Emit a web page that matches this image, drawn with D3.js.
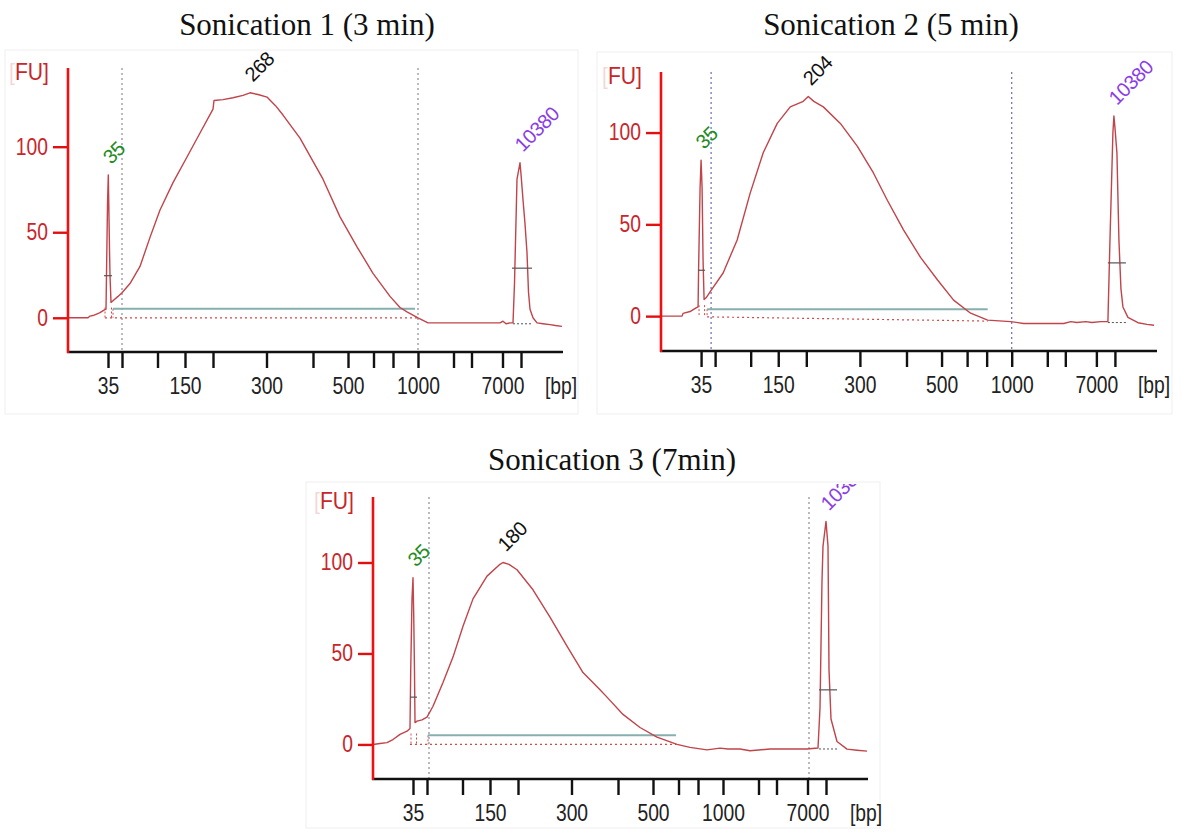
<!DOCTYPE html>
<html><head><meta charset="utf-8">
<script src="https://cdn.jsdelivr.net/npm/d3@7"></script>
<style>
body{margin:0;background:#fff;}
svg{display:block;}
</style></head><body>
<svg id="c" width="1182" height="838"></svg>
<script>
// ---------------- data ----------------
const titles = ["Sonication 1 (3 min)", "Sonication 2 (5 min)", "Sonication 3 (7min)"];
// ladder fragment sizes (bp) and their migration times (s, arbitrary units)
const ladderBp   = [35, 50, 100, 150, 200, 300, 400, 500, 600, 700, 1000, 2000, 3000, 7000, 10380];
const ladderTime = [28.0, 30.8, 37.9, 43.4, 49.0, 59.7, 69.0, 76.0, 81.1, 85.0, 90.0, 97.1, 100.7, 106.9, 110.6];
const labelledBp = [35, 150, 300, 500, 1000, 7000];
const yTickValues = [0, 50, 100];
const timeDomain = [20, 119];
const fuDomains = [[-20, 146], [-19, 133], [-19, 136]];

// electropherogram traces: [time, FU]
const trace1 = [
 [20,0],[24,0],[24.4,1],[25.2,1.5],[25.6,2],[26.4,3],[27.2,4.5],[27.6,5],
 [27.7,25],[27.9,66],[28.06,83.5],[28.16,66],[28.3,40],[28.4,25],[28.6,9],
 [29.0,10],[30.0,12.5],[30.8,14.6],[32.4,20],[34.4,30],[36.4,47],[38.4,63],[41.0,79],[43.8,94],[46.4,108],
 [49.0,122],[49.2,127],[51.0,127.5],[53.0,128.6],[55.0,130],[56.4,131.5],[58.0,130.5],[59.8,129],[61.5,124],
 [63.0,118.5],[66.4,105],[68.5,94],[71.0,81],[74.4,59],[77.8,41.5],[81.0,26],[84.4,12.5],[86.4,6],[87.8,3.5],
 [90.0,0],[91.0,-1.5],[92.0,-3],[100,-3],[104,-3],[106.4,-3],[107.0,-2],[107.6,-3.5],[108.4,-3],[109.0,-3],
 [109.3,20],[109.8,81],[110.4,90.6],[110.6,84],[111.0,69],[111.4,55],[111.8,38],[112.1,15],[112.4,5],
 [113.0,0],[113.8,-3],[115,-3.5],[116.4,-4],[117.5,-4.5],[118.8,-5]
];
const trace2 = [
 [20,0],[24.2,0],[24.4,1.5],[25.8,2.5],[27.0,4.5],[27.4,5],
 [27.5,25],[27.8,70],[28.0,85],[28.2,70],[28.4,30],[28.6,9],
 [29.0,10],[30.0,14],[32.4,23.5],[35.2,41.5],[37.8,67],[40.4,89],[43.2,105],[45.8,114],[48.4,117],[49.4,119.7],
 [50.5,117],[52.4,114],[55.8,105],[59.2,92.5],[62.4,78],[65.2,63],[68.4,47],[71.8,32],[75.2,19.7],[78.4,8.7],
 [81.8,1.6],[85.2,-2.2],[89.8,-3],[92.4,-4],[100.4,-4],[101.8,-3],[103,-3.5],[104.8,-3],[106,-3.5],[107.8,-3],[109.2,-3],
 [109.6,40],[110.2,100],[110.4,109],[110.6,103],[111.0,89],[111.4,41.5],[111.8,15],[112.2,5],[113.2,-0.7],
 [115.2,-3.6],[117,-4.5],[118.4,-5]
];
const trace3 = [
 [20,0],[21.4,0.5],[22.8,1],[24.0,2.7],[25.4,5.5],[26.8,7.3],[27.4,8.8],
 [27.54,40],[27.8,80],[28.0,91.6],[28.14,72],[28.3,40],[28.4,12],
 [28.8,12.8],[29.8,13.5],[30.8,15],[32.0,21],[34.0,34],[36.0,48],[38.0,65],[40.0,80],[42.8,92.5],[45.4,99],[46.0,100],
 [47.2,99],[48.8,96],[52.0,85],[55.4,70],[58.8,54],[62.0,39.5],[65.4,30],[66.8,26],[70.0,16.5],[73.4,9.3],[76.8,4],
 [80.8,0],[83.4,-1.6],[86.8,-3],[89.4,-2],[91,-2.5],[93.4,-2.5],[95.4,-3.5],[99.4,-2.5],[103.4,-2.5],[106.8,-2.5],[109.0,-2],
 [109.4,20],[109.8,90],[110.0,109],[110.6,122.6],[111.0,109],[111.2,41],[111.6,14],[112.8,1.6],[114.8,-2.6],
 [116.8,-3.2],[118.8,-3.7]
];

// called peaks: [time, FU, size label]  (lower marker, smear peak, upper marker)
const peaks1 = [[28.06, 83.5, "35"], [56.4, 131.5, "268"], [110.4, 90.6, "10380"]];
const peaks2 = [[28.0, 85, "35"], [49.4, 119.7, "204"], [110.4, 109, "10380"]];
const peaks3 = [[28.0, 91.6, "35"], [46.0, 100, "180"], [110.6, 122.6, "10380"]];

// half-height markers: [time start, time end, FU]
const halfHeight1 = [[27.2, 28.8, 24.6], [108.8, 112.8, 29]];
const halfHeight2 = [[27.4, 28.8, 25], [109.2, 112.8, 29]];
const halfHeight3 = [[27.4, 28.8, 26], [109.2, 112.8, 30]];

// smear region: [time start, time end, FU level]
const smear1 = [29.0, 89.4, 5.3];
const smear2 = [29.2, 85.2, 3.8];
const smear3 = [31.0, 80.6, 5];

// region baseline: [time start, FU start, time end, FU end]
const baseline1 = [27.4, 0, 90.0, 0];
const baseline2 = [29.2, -0.4, 85.2, -2.7];
const baseline3 = [27.4, 0, 80.6, 0];

// upper-marker peak baseline: [time start, time end, FU]
const markerBase1 = [109.0, 113.0, -3.5];
const markerBase2 = [109.2, 113.0, -3.5];
const markerBase3 = [109.2, 112.8, -2.5];

// region boundaries (vertical lines), time
const bounds1 = [30.8, 90.0];
const bounds2 = [30.0, 90.0];
const bounds3 = [31.2, 107.2];

// ---------------- layout & style ----------------
const layouts = [
  {left: 68,  top: 68,  width: 495, height: 284, titleX: 307, titleY: 35,  clipTop: 40,  box: [5, 50, 573, 364], boundColor: "#8c8c9c"},
  {left: 661, top: 72,  width: 496, height: 279, titleX: 891, titleY: 35,  clipTop: 40,  box: [597, 52, 575, 362], boundColor: "#6b6bb5"},
  {left: 373, top: 497, width: 495, height: 282, titleX: 612, titleY: 470, clipTop: 484, box: [306, 482, 574, 346], boundColor: "#8c8c9c"}
];
const traces = [trace1, trace2, trace3];
const peaks = [peaks1, peaks2, peaks3];
const halfHeights = [halfHeight1, halfHeight2, halfHeight3];
const smears = [smear1, smear2, smear3];
const baselines = [baseline1, baseline2, baseline3];
const markerBases = [markerBase1, markerBase2, markerBase3];
const bounds = [bounds1, bounds2, bounds3];
const peakColors = ["#228b22", "#111111", "#8a3ee6"];

const SANS = "'Liberation Sans', Arial, sans-serif";
const LABEL_SIZE = 23, LABEL_SX = 0.84;
const svg = d3.select("#c");

layouts.forEach((L, i) => {
  const g = svg.append("g");
  // faint frame of the screenshot
  g.append("rect").attr("x", L.box[0]).attr("y", L.box[1]).attr("width", L.box[2]).attr("height", L.box[3])
    .attr("fill", "none").attr("stroke", "#efefef").attr("stroke-width", 1);

  const x = d3.scaleLinear().domain(timeDomain).range([L.left, L.left + L.width]);
  const y = d3.scaleLinear().domain(fuDomains[i]).range([L.top + L.height, L.top]);

  // title
  svg.append("text").attr("x", L.titleX).attr("y", L.titleY).attr("text-anchor", "middle")
    .attr("font-family", "'Liberation Serif', 'Times New Roman', serif").attr("font-size", 31)
    .attr("fill", "#111").text(titles[i]);

  const clipId = "clip" + i;
  svg.append("clipPath").attr("id", clipId).append("rect")
    .attr("x", L.left - 70).attr("y", L.clipTop).attr("width", L.width + 80).attr("height", L.top + L.height - L.clipTop + 60);
  const pg = g.append("g").attr("clip-path", `url(#${clipId})`);

  // region boundary vertical dotted lines
  bounds[i].forEach(t => {
    pg.append("line").attr("x1", x(t)).attr("x2", x(t)).attr("y1", L.top).attr("y2", L.top + L.height)
      .attr("stroke", L.boundColor).attr("stroke-width", 1.2).attr("stroke-dasharray", "2,3");
  });

  // region baseline (red dotted)
  const b = baselines[i];
  pg.append("line").attr("x1", x(b[0])).attr("y1", y(b[1])).attr("x2", x(b[2])).attr("y2", y(b[3]))
    .attr("stroke", "#d04a4a").attr("stroke-width", 1.2).attr("stroke-dasharray", "2,3");
  // dotted drop at smear start
  const s = smears[i];
  pg.append("line").attr("x1", x(s[0])).attr("x2", x(s[0])).attr("y1", y(s[2])).attr("y2", y(0))
    .attr("stroke", "#d04a4a").attr("stroke-width", 1).attr("stroke-dasharray", "2,2");
  // dotted edges of lower marker
  const hL = halfHeights[i][0];
  [hL[0] + 0.2, hL[1] - 0.1].forEach(t => {
    pg.append("line").attr("x1", x(t)).attr("x2", x(t)).attr("y1", y(6)).attr("y2", y(0))
      .attr("stroke", "#d04a4a").attr("stroke-width", 1).attr("stroke-dasharray", "2,2");
  });
  // upper marker baseline
  const mb = markerBases[i];
  pg.append("line").attr("x1", x(mb[0])).attr("x2", x(mb[1])).attr("y1", y(mb[2])).attr("y2", y(mb[2]))
    .attr("stroke", "#555").attr("stroke-width", 1).attr("stroke-dasharray", "2,2");

  // smear region line (teal)
  pg.append("line").attr("x1", x(s[0])).attr("x2", x(s[1])).attr("y1", y(s[2])).attr("y2", y(s[2]))
    .attr("stroke", "#86afae").attr("stroke-width", 2);

  // trace
  const line = d3.line().x(d => x(d[0])).y(d => y(d[1]));
  pg.append("path").datum(traces[i]).attr("d", line).attr("fill", "none")
    .attr("stroke", "#c0444a").attr("stroke-width", 1.4).attr("stroke-linejoin", "round");

  // half-height markers
  halfHeights[i].forEach(h => {
    pg.append("line").attr("x1", x(h[0])).attr("x2", x(h[1])).attr("y1", y(h[2])).attr("y2", y(h[2]))
      .attr("stroke", "#555").attr("stroke-width", 1.2);
  });

  // peak labels
  peaks[i].forEach((p, k) => {
    const px = x(p[0]) + 3, py = y(p[1]) - 10;
    pg.append("text").attr("transform", `translate(${px},${py}) rotate(-45)`)
      .attr("font-family", SANS).attr("font-size", 20).attr("letter-spacing", -0.5)
      .attr("fill", peakColors[k]).text(p[2]);
  });

  // x axis
  const xAxis = d3.axisBottom(x).tickValues(ladderTime).tickSize(16).tickSizeOuter(0).tickPadding(10)
    .tickFormat((t, j) => labelledBp.includes(ladderBp[j]) ? String(ladderBp[j]) : "");
  const gx = g.append("g").attr("transform", `translate(0,${L.top + L.height})`).call(xAxis);
  gx.select(".domain").remove();
  gx.selectAll(".tick line").attr("stroke", "#111").attr("stroke-width", 2.4);
  gx.selectAll(".tick text").attr("font-family", SANS).attr("font-size", LABEL_SIZE)
    .attr("transform", `scale(${LABEL_SX},1)`).attr("fill", "#222");
  g.append("line").attr("x1", L.left - 1).attr("x2", L.left + L.width).attr("y1", L.top + L.height).attr("y2", L.top + L.height)
    .attr("stroke", "#111").attr("stroke-width", 2.6);
  g.append("text").attr("transform", `translate(${L.left + 493},${L.top + L.height + 42}) scale(${LABEL_SX},1)`)
    .attr("text-anchor", "middle")
    .attr("font-family", SANS).attr("font-size", LABEL_SIZE).attr("fill", "#222").text("[bp]");

  // y axis
  const yAxis = d3.axisLeft(y).tickValues(yTickValues).tickSize(15).tickSizeOuter(0).tickPadding(5);
  const gy = g.append("g").attr("transform", `translate(${L.left},0)`).call(yAxis);
  gy.select(".domain").remove();
  gy.selectAll(".tick line").attr("stroke", "#e01010").attr("stroke-width", 2.4);
  gy.selectAll(".tick text").attr("font-family", SANS).attr("font-size", LABEL_SIZE)
    .attr("x", -20 / LABEL_SX).attr("transform", `scale(${LABEL_SX},1)`).attr("fill", "#c8262c");
  g.append("line").attr("x1", L.left).attr("x2", L.left).attr("y1", L.top).attr("y2", L.top + L.height + 1)
    .attr("stroke", "#ee1111").attr("stroke-width", 2.6);
  const fu = g.append("text").attr("transform", `translate(${L.left - 19},${L.top + 12}) scale(0.92,1)`)
    .attr("text-anchor", "end")
    .attr("font-family", SANS).attr("font-size", 23).attr("fill", "#c8262c");
  fu.append("tspan").attr("fill-opacity", 0.2).text("[");
  fu.append("tspan").text("FU]");
});
</script>
</body></html>
